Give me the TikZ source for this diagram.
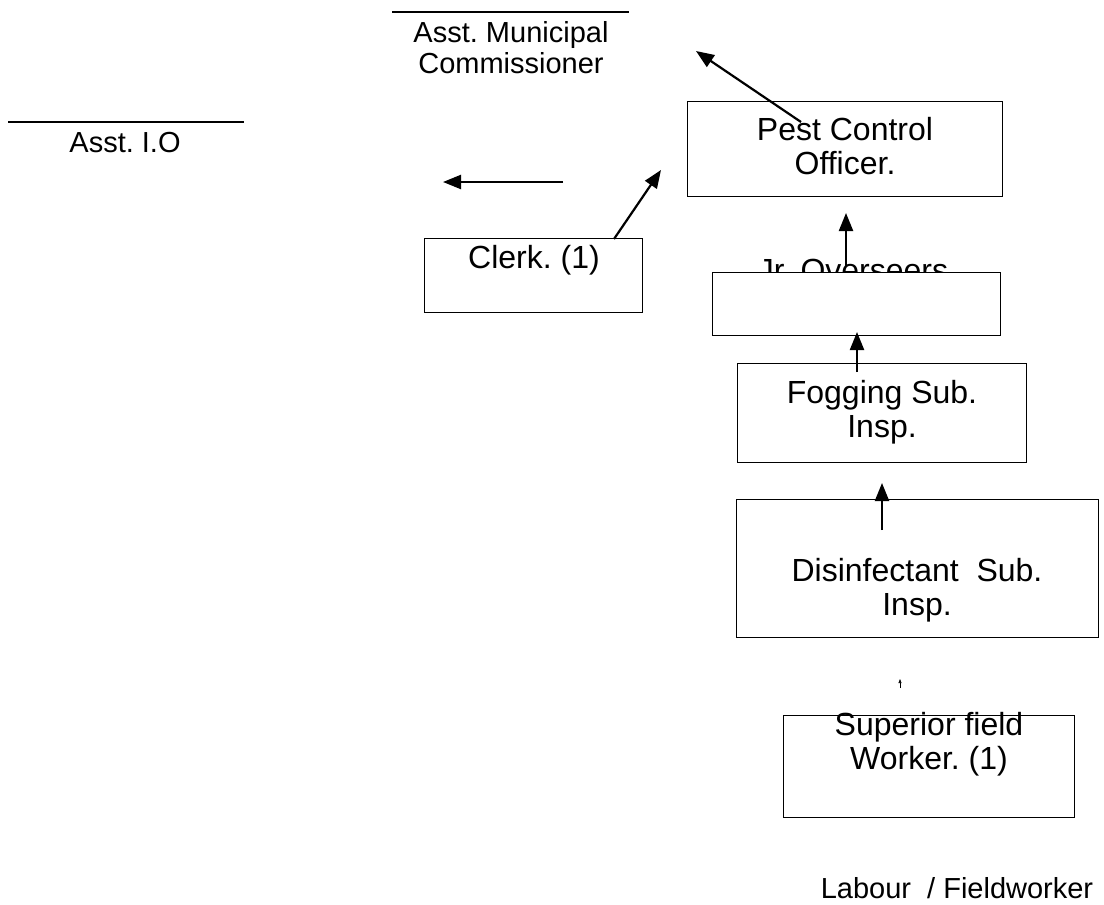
\documentclass[tikz,border=0pt]{standalone}
\usepackage{fontspec}
\setmainfont{Liberation Sans}
\frenchspacing
\usetikzlibrary{arrows.meta}
\tikzset{
	box/.style={draw, line width=1.1bp, inner sep=0pt, anchor=north west},
	boxtext/.style={font=\fontsize{32bp}{33.5bp}\selectfont, align=center, inner sep=0pt, anchor=base},
	plaintext/.style={font=\fontsize{29bp}{30.5bp}\selectfont, align=center, inner sep=0pt, anchor=base},
	upline/.style={line width=1.3bp},
	arr/.style={line width=2.2bp, -{Triangle[length=18bp,width=14bp]}},
	tinyarr/.style={line width=0.6bp, -{Triangle[length=4bp,width=3bp]}}
}

\begin{document}
\begin{tikzpicture}[x=1bp, y=-1bp]
			%%%%% START %%%%%
			\useasboundingbox (0, 0) rectangle (1104, 905);
			
			\draw[upline] (392, 12) -- (629, 12);
			\node[plaintext] (amc) at (511, 73) {Asst. Municipal\\Commissioner};
			
			\draw[upline] (8, 122) -- (244, 122);
			\node[plaintext] (aio) at (125, 152) {Asst. I.O};
			
			\node[box, minimum width=315bp, minimum height=95bp] (pco) at (687, 101) {};
			\node[boxtext] (pco-txt) at (845, 174) {Pest Control\\Officer.};
			
			\node[box, minimum width=218bp, minimum height=74bp] (clerk) at (424, 238) {};
			\node[boxtext] (clerk-txt) at (534, 268) {Clerk. (1)};
			
			\node[boxtext] (jro-txt) at (853, 281) {Jr. Overseers};
			\node[box, fill=white, minimum width=288bp, minimum height=63bp] (jro) at (712, 272) {};
			
			\node[box, minimum width=289bp, minimum height=99bp] (fsi) at (737, 363) {};
			\node[boxtext] (fsi-txt) at (882, 437) {Fogging Sub.\\Insp.};
			
			\node[box, minimum width=362bp, minimum height=138bp] (dsi) at (736, 499) {};
			\node[boxtext] (dsi-txt) at (917, 615) {Disinfectant\ \ Sub.\\Insp.};
			
			\node[box, minimum width=291bp, minimum height=102bp] (sfw) at (783, 715) {};
			\node[boxtext] (sfw-txt) at (929, 769) {Superior field\\Worker. (1)};
			
			\node[plaintext] (lab) at (957, 898) {Labour\ \ / Fieldworker};
			
			%% arrow ends
			\coordinate (pco-out) at (801, 122);
			\coordinate (amc-in) at (696, 51);
			\coordinate (lft-out) at (563, 182);
			\coordinate (lft-in) at (443, 182);
			\coordinate (clerk-out) at (614, 239);
			\coordinate (pco-in1) at (661, 170);
			\coordinate (jro-out) at (846, 267);
			\coordinate (pco-in2) at (846, 213);
			\coordinate (fsi-out) at (857, 372);
			\coordinate (jro-in) at (857, 332);
			\coordinate (dsi-out) at (882, 530);
			\coordinate (fsi-in) at (882, 483);
			\coordinate (sfw-out) at (900, 688);
			\coordinate (dsi-in) at (900, 679);
			
			\draw[arr] (pco-out) -- (amc-in);
			\draw[arr] (lft-out) -- (lft-in);
			\draw[arr] (clerk-out) -- (pco-in1);
			\draw[arr] (jro-out) -- (pco-in2);
			\draw[arr] (fsi-out) -- (jro-in);
			\draw[arr] (dsi-out) -- (fsi-in);
			\draw[tinyarr] (sfw-out) -- (dsi-in);
			
			%%%%% END %%%%%
\end{tikzpicture}
\end{document}
